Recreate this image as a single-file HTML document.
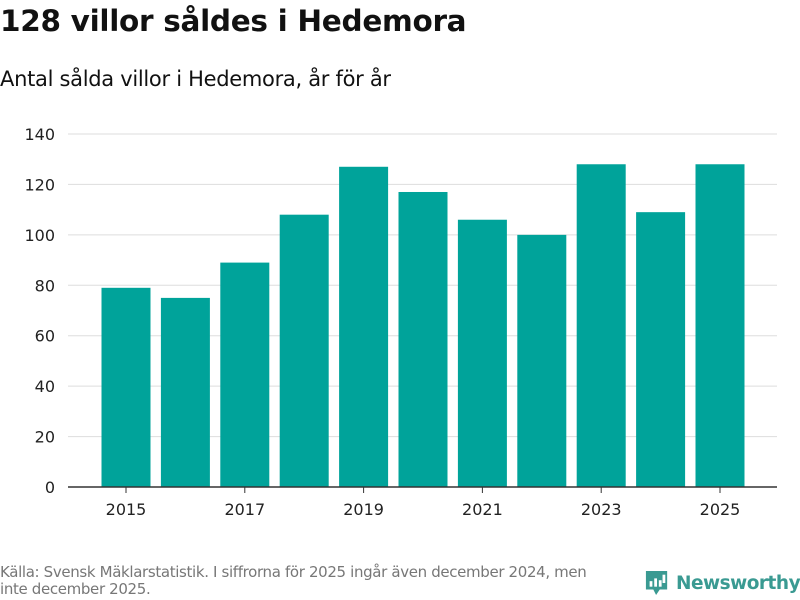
<!DOCTYPE html>
<html><head><meta charset="utf-8"><style>
body{margin:0;width:800px;height:600px;background:#fff;font-family:"DejaVu Sans","Liberation Sans",sans-serif;overflow:hidden;position:relative}
h1{position:absolute;left:0;top:4px;margin:0;font-size:29.5px;font-weight:bold;color:#111;letter-spacing:-0.3px}
.sub{position:absolute;left:0;top:67px;font-size:21px;color:#111;letter-spacing:-0.3px}
.src{position:absolute;left:0;top:564px;font-size:15px;color:#777;line-height:17px;width:605px;letter-spacing:-0.35px}
.logo{position:absolute;left:645px;top:568px;display:flex;align-items:center;color:#3a9a92;font-size:18.5px;font-weight:bold;letter-spacing:-0.5px}
</style></head><body>
<h1>128 villor såldes i Hedemora</h1>
<div class="sub">Antal sålda villor i Hedemora, år för år</div>
<svg id="chart" width="800" height="600" style="position:absolute;left:0;top:0"></svg>
<div class="src">Källa: Svensk Mäklarstatistik. I siffrorna för 2025 ingår även december 2024, men inte december 2025.</div>
<div class="logo">
<svg width="24" height="30" viewBox="0 0 26 30" style="margin-right:7px"><path d="M1 2h23v20H16l-4 6-3-6H1z" fill="#3a9a92"/><rect x="5" y="13" width="3" height="6" fill="#fff"/><rect x="10" y="10" width="3" height="9" fill="#fff"/><rect x="15" y="12" width="3" height="7" fill="#fff"/><rect x="19" y="6" width="3" height="9" fill="#fff"/></svg>Newsworthy</div>
<script>
const years=[2015,2016,2017,2018,2019,2020,2021,2022,2023,2024,2025];
const values=[79,75,89,108,127,117,106,100,128,109,128];
const yTicks=[0,20,40,60,80,100,120,140];
const NS='http://www.w3.org/2000/svg';
const svg=document.getElementById('chart');
const x0=68,x1=777,y0=487,yTop=134,step=59.4,c0=126,bw=49;
const y=v=>y0-(v/140)*(y0-yTop);
const x=i=>c0+i*step;
function mk(t,a){const e=document.createElementNS(NS,t);for(const k in a)e.setAttribute(k,a[k]);svg.appendChild(e);return e;}
yTicks.forEach(t=>{
 if(t>0){const g=mk('line',{x1:x0,x2:x1,y1:y(t),y2:y(t),stroke:'#ddd','stroke-width':1});
 
 }
 const l=mk('text',{x:55,y:y(t)+6,'text-anchor':'end','font-size':16,fill:'#222','font-family':'DejaVu Sans, sans-serif'});
 l.textContent=t;
 
 
});
values.forEach((v,i)=>{
 const r=mk('rect',{x:x(i)-bw/2,y:y(v),width:bw,height:y0-y(v),fill:'#00a39a'});
 
 
 if(i%2===0){
  const tk=mk('line',{x1:x(i),x2:x(i),y1:y0,y2:y0+6,stroke:'#333'});
  
  
  const l=mk('text',{x:x(i),y:515,'text-anchor':'middle','font-size':16,fill:'#222','font-family':'DejaVu Sans, sans-serif'});
  l.textContent=years[i];
  
  
 }
});
const ax=mk('line',{x1:x0,x2:x1,y1:y0,y2:y0,stroke:'#333','stroke-width':1.5});


</script>
</body></html>
